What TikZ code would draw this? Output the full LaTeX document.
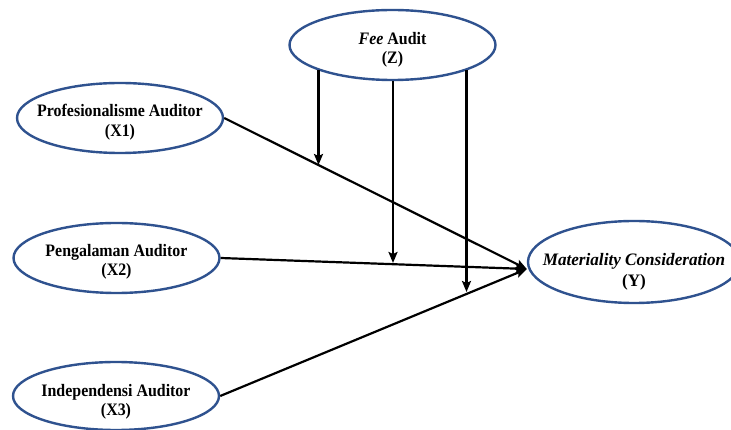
\documentclass[tikz,border=0pt]{standalone}
\usepackage{fontspec}
\setmainfont{Liberation Serif}[FakeStretch=0.91]
\newfontfamily\ywide{Liberation Serif}[FakeStretch=0.98]
\usetikzlibrary{shapes.geometric,arrows.meta,calc}
\definecolor{ellblue}{HTML}{2F528F}
\tikzset{
  ell/.style={shape=ellipse, draw=ellblue, line width=2.4pt, fill=white, inner sep=0pt,
              minimum width=206pt, minimum height=70pt},
  lab/.style={align=center, font=\bfseries\fontsize{17.5}{19.5}\selectfont, inner sep=0pt},
  arr/.style={line width=2.2pt, -{Stealth[length=11pt,width=9pt,inset=2pt]}}
}
\begin{document}
\begin{tikzpicture}[x=1pt,y=-1pt]
\clip (0,0) rectangle (731,430);
\fill[white] (0,0) rectangle (731,430);
% nodes
\node[ell, label={[lab,yshift=-5pt]center:{\textit{Fee} Audit\\(Z)}}] (z) at (392.5,45) {};
\node[ell, label={[lab,yshift=-4pt]center:{Profesionalisme Auditor\\(X1)}}] (x1) at (120,118) {};
\node[ell, label={[lab,yshift=-4pt]center:{Pengalaman Auditor\\(X2)}}] (x2) at (116.5,258) {};
\node[ell, minimum height=68pt, label={[lab,yshift=-6pt]center:{Independensi Auditor\\(X3)}}] (x3) at (116,396) {};
\node[ell, minimum width=212pt, minimum height=82pt,
      label={[lab,yshift=-10pt,font=\ywide\bfseries\fontsize{17.5}{21}\selectfont]center:{\textit{Materiality Consideration}\\(Y)}}] (y) at (634,262) {};
% connection points
\coordinate (yin) at ($(y.west)+(0,7)$);
\coordinate (m1) at (321,165);
\coordinate (m2) at (393,263);
\coordinate (m3) at (463,292);
% main arrows
\draw[arr] (x1.east) -- (yin);
\draw[arr] (x2.east) -- (yin);
\draw[arr] (x3.east) -- (yin);
% moderating arrows
\draw[arr] (z.199) -- (z.199 |- m1);
\draw[arr] (z.south -| m2) -- (m2);
\draw[arr] (z.341) -- (z.341 |- m3);
\end{tikzpicture}
\end{document}
